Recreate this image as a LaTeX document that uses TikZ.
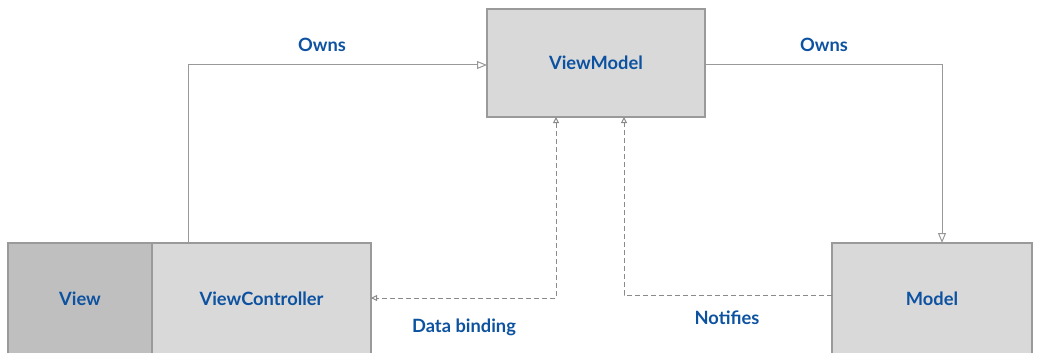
\documentclass[tikz,border=0pt]{standalone}
\usepackage{fontspec}
\setmainfont{Lato}
\usetikzlibrary{arrows.meta}
\definecolor{boxfill}{HTML}{D9D9D9}
\definecolor{viewfill}{HTML}{BFBFBF}
\definecolor{boxline}{HTML}{9A9A9A}
\definecolor{linecol}{HTML}{999999}
\definecolor{txt}{HTML}{0D52A0}
\tikzset{
  box/.style={draw=boxline, line width=2pt, fill=boxfill, rectangle, inner sep=0pt, outer sep=0pt, text=txt, font=\fontsize{18.3}{20}\selectfont\bfseries},
  lbl/.style={text=txt, font=\fontsize{18.3}{20}\selectfont\bfseries, inner sep=0pt},
  conn/.style={draw=linecol, line width=1pt, -{Triangle[open,length=10pt,width=8pt]}},
  dconn/.style={draw=linecol!90!black, line width=1pt, dash pattern=on 5pt off 3pt}
}
\begin{document}
\begin{tikzpicture}[x=1pt,y=-1pt]
\useasboundingbox (0,0) rectangle (1039,353);
\node[box, minimum width=218pt, minimum height=108pt] (vm) at (596,63) {ViewModel};
\node[box, fill=viewfill, minimum width=144pt, minimum height=112pt] (view) at (80,299) {View};
\node[box, minimum width=219pt, minimum height=112pt] (vc) at (261.5,299) {ViewController};
\node[box, minimum width=200pt, minimum height=112pt] (model) at (932,299) {Model};
\coordinate (o1) at (188,65);
\coordinate (o2) at (942,65);
\coordinate (db) at (556,298);
\coordinate (nt) at (624,295);
\draw[conn] (vc.north -| o1) -- (o1) -- (vm.west |- o1);
\draw[conn] (vm.east |- o2) -- (o2) -- (model.north -| o2);
\draw[dconn, {Triangle[open,length=6pt,width=6pt]}-{Triangle[open,length=6pt,width=6pt]}] (vm.south -| db) -- (db) -- (vc.east |- db);
\draw[dconn, -{Triangle[open,length=6pt,width=6pt]}] (model.west |- nt) -- (nt) -- (vm.south -| nt);
\node[lbl] (l1) at (322,45) {Owns};
\node[lbl] (l2) at (824,45) {Owns};
\node[lbl] (l3) at (464,327) {Data binding};
\node[lbl] (l4) at (727,318) {Notifies};
\end{tikzpicture}
\end{document}
